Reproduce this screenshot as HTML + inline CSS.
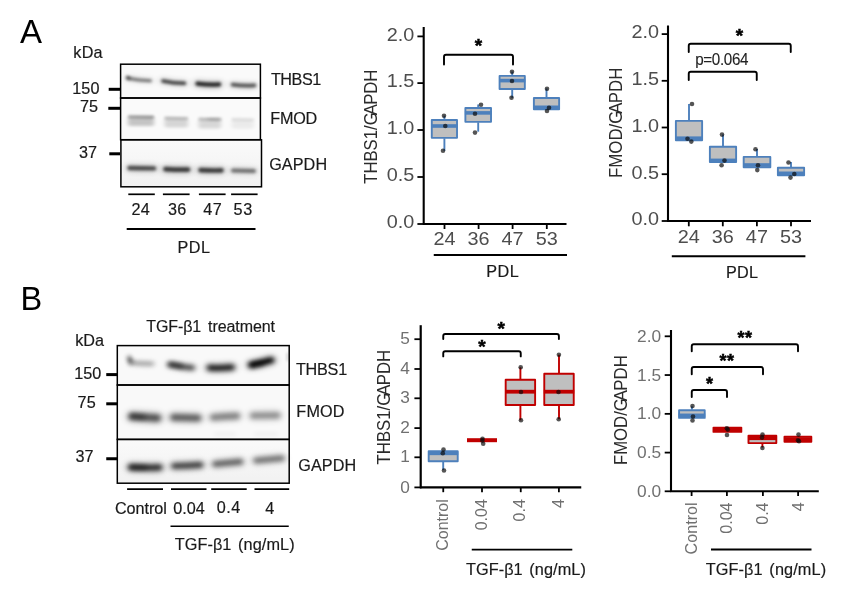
<!DOCTYPE html>
<html lang="en"><head><meta charset="utf-8"><title>Figure</title>
<style>
html,body{margin:0;padding:0;background:#fff;}
svg{display:block;font-family:"Liberation Sans", Arial, sans-serif;}
</style></head><body>
<svg width="852" height="591" viewBox="0 0 852 591">
<defs>
<filter id="b1" x="-30%" y="-200%" width="160%" height="500%"><feGaussianBlur stdDeviation="1.6 1.1"/></filter>
<filter id="b2" x="-30%" y="-200%" width="160%" height="500%"><feGaussianBlur stdDeviation="2.2 1.8"/></filter>
<filter id="b3" filterUnits="userSpaceOnUse" x="100" y="330" width="210" height="170"><feGaussianBlur stdDeviation="2.6 1.9"/></filter>
<filter id="bh" filterUnits="userSpaceOnUse" x="100" y="50" width="210" height="450"><feGaussianBlur stdDeviation="3 2.6"/></filter>
<filter id="bA" filterUnits="userSpaceOnUse" x="100" y="50" width="180" height="150"><feGaussianBlur stdDeviation="1.8 1.35"/></filter>
<filter id="bA2" filterUnits="userSpaceOnUse" x="270" y="340" width="30" height="40"><feGaussianBlur stdDeviation="0.9 1.6"/></filter>
<filter id="bF" filterUnits="userSpaceOnUse" x="100" y="50" width="180" height="150"><feGaussianBlur stdDeviation="2.2 1.5"/></filter>
<linearGradient id="gA3" x1="0" y1="0" x2="0" y2="1"><stop offset="0" stop-color="#fafafa"/><stop offset="1" stop-color="#f1f1f1"/></linearGradient>
<linearGradient id="gB" x1="0" y1="0" x2="0" y2="1"><stop offset="0" stop-color="#f8f8f8"/><stop offset="0.7" stop-color="#fafafa"/><stop offset="1" stop-color="#f1f1f1"/></linearGradient>
</defs>
<rect width="852" height="591" fill="#fff"/>

<text x="20" y="43" font-size="33" fill="#000" text-anchor="start">A</text>
<text transform="translate(73.31 58) scale(1 1.0)" font-size="16.2" fill="#1a1a1a" stroke="#1a1a1a" stroke-width="0.18" letter-spacing="0.241">kDa</text>
<rect x="120.5" y="64.2" width="140" height="75.6" fill="#fafafa"/>
<rect x="120.5" y="139.8" width="141" height="47" fill="url(#gA3)"/>
<path d="M127.5 78.2Q139.0 80.5 150.5 80.8" fill="none" stroke="#000" stroke-width="6.0" stroke-linecap="round" opacity="0.11" filter="url(#bh)"/>
<path d="M127.5 78.2Q139.0 80.5 150.5 80.8" fill="none" stroke="#000" stroke-width="3.0" stroke-linecap="round" opacity="0.5" filter="url(#bA)"/>
<rect x="125.8" y="76.0" width="5" height="3.2" rx="1.6" fill="#000" opacity="0.45" filter="url(#bA)" transform="rotate(25 128.3 77.6)"/>
<path d="M163 81.0Q173.75 83.35 184.5 83.3" fill="none" stroke="#000" stroke-width="7.2" stroke-linecap="round" opacity="0.154" filter="url(#bh)"/>
<path d="M163 81.0Q173.75 83.35 184.5 83.3" fill="none" stroke="#000" stroke-width="3.6" stroke-linecap="round" opacity="0.7" filter="url(#bA)"/>
<path d="M197.5 83.6Q208.25 85.0 219 84.4" fill="none" stroke="#000" stroke-width="8.8" stroke-linecap="round" opacity="0.18" filter="url(#bh)"/>
<path d="M197.5 83.6Q208.25 85.0 219 84.4" fill="none" stroke="#000" stroke-width="4.4" stroke-linecap="round" opacity="0.82" filter="url(#bA)"/>
<path d="M232.5 84.6Q243.5 86.2 254.5 85.4" fill="none" stroke="#000" stroke-width="7.2" stroke-linecap="round" opacity="0.136" filter="url(#bh)"/>
<path d="M232.5 84.6Q243.5 86.2 254.5 85.4" fill="none" stroke="#000" stroke-width="3.6" stroke-linecap="round" opacity="0.62" filter="url(#bA)"/>
<path d="M129 116.6Q141.0 116.8 153 117.0" fill="none" stroke="#000" stroke-width="2.4" stroke-linecap="round" opacity="0.42" filter="url(#bA)"/>
<rect x="128" y="117.1" width="26" height="9" rx="2" fill="#000" opacity="0.21" filter="url(#bF)"/>
<path d="M165.5 118.0Q176.25 118.2 187 118.4" fill="none" stroke="#000" stroke-width="2.4" stroke-linecap="round" opacity="0.28" filter="url(#bA)"/>
<rect x="164.5" y="118.5" width="23.5" height="9" rx="2" fill="#000" opacity="0.14" filter="url(#bF)"/>
<path d="M199.5 119.0Q209.75 119.2 220 119.4" fill="none" stroke="#000" stroke-width="2.4" stroke-linecap="round" opacity="0.27" filter="url(#bA)"/>
<rect x="198.5" y="119.5" width="22.5" height="9" rx="2" fill="#000" opacity="0.135" filter="url(#bF)"/>
<path d="M232.5 119.2Q242.75 119.4 253 119.60000000000001" fill="none" stroke="#000" stroke-width="2.4" stroke-linecap="round" opacity="0.12" filter="url(#bA)"/>
<rect x="231.5" y="119.7" width="22.5" height="9" rx="2" fill="#000" opacity="0.06" filter="url(#bF)"/>
<path d="M209 119.0Q214.5 119.0 220 119.0" fill="none" stroke="#000" stroke-width="2.6" stroke-linecap="round" opacity="0.16" filter="url(#bF)"/>
<path d="M129.5 168.0Q141.75 168.4 154 168.4" fill="none" stroke="#000" stroke-width="8.8" stroke-linecap="round" opacity="0.145" filter="url(#bh)"/>
<path d="M129.5 168.0Q141.75 168.4 154 168.4" fill="none" stroke="#000" stroke-width="4.4" stroke-linecap="round" opacity="0.66" filter="url(#bA)"/>
<path d="M165.5 169.1Q176.75 169.75 188 169.6" fill="none" stroke="#000" stroke-width="9.6" stroke-linecap="round" opacity="0.158" filter="url(#bh)"/>
<path d="M165.5 169.1Q176.75 169.75 188 169.6" fill="none" stroke="#000" stroke-width="4.8" stroke-linecap="round" opacity="0.72" filter="url(#bA)"/>
<path d="M200.5 170.1Q211.0 170.65 221.5 170.4" fill="none" stroke="#000" stroke-width="9.2" stroke-linecap="round" opacity="0.158" filter="url(#bh)"/>
<path d="M200.5 170.1Q211.0 170.65 221.5 170.4" fill="none" stroke="#000" stroke-width="4.6" stroke-linecap="round" opacity="0.72" filter="url(#bA)"/>
<path d="M233 170.5Q243.5 170.95 254 171.0" fill="none" stroke="#000" stroke-width="8.0" stroke-linecap="round" opacity="0.11" filter="url(#bh)"/>
<path d="M233 170.5Q243.5 170.95 254 171.0" fill="none" stroke="#000" stroke-width="4.0" stroke-linecap="round" opacity="0.5" filter="url(#bA)"/>
<rect x="120.6" y="64.2" width="139.8" height="33.8" fill="none" stroke="#000" stroke-width="1.5"/>
<rect x="120.6" y="98" width="139.8" height="41.7" fill="none" stroke="#000" stroke-width="1.5"/>
<rect x="120.9" y="139.8" width="140.6" height="47.0" fill="none" stroke="#000" stroke-width="1.5"/>
<text transform="translate(72.17 93.9) scale(1 1.0)" font-size="16.2" fill="#1a1a1a" stroke="#1a1a1a" stroke-width="0.18" letter-spacing="0.169">150</text>
<line x1="108.7" y1="89.3" x2="120" y2="89.3" stroke="#000" stroke-width="3"/>
<text transform="translate(80.07 111.6) scale(1 1.0)" font-size="16.2" fill="#1a1a1a" stroke="#1a1a1a" stroke-width="0.18" letter-spacing="-0.008">75</text>
<line x1="108.3" y1="108.3" x2="120" y2="108.3" stroke="#000" stroke-width="3"/>
<text transform="translate(79.08 157.9) scale(1 1.0)" font-size="16.2" fill="#1a1a1a" stroke="#1a1a1a" stroke-width="0.18" letter-spacing="-0.188">37</text>
<line x1="109.3" y1="153.8" x2="120" y2="153.8" stroke="#000" stroke-width="3"/>
<text transform="translate(270.94 84.95) scale(1 1.0)" font-size="16.2" fill="#1a1a1a" stroke="#1a1a1a" stroke-width="0.18" letter-spacing="-0.465">THBS1</text>
<text transform="translate(270.37 124.1) scale(1 1.0)" font-size="16.2" fill="#1a1a1a" stroke="#1a1a1a" stroke-width="0.18" letter-spacing="-0.262">FMOD</text>
<text transform="translate(269.19 169.85) scale(1 1.0)" font-size="16.2" fill="#1a1a1a" stroke="#1a1a1a" stroke-width="0.18" letter-spacing="0.082">GAPDH</text>
<line x1="128.3" y1="194.3" x2="154.8" y2="194.3" stroke="#000" stroke-width="1.7"/>
<line x1="162.9" y1="194.3" x2="189.6" y2="194.3" stroke="#000" stroke-width="1.7"/>
<line x1="198.9" y1="194.3" x2="225.6" y2="194.3" stroke="#000" stroke-width="1.7"/>
<line x1="231.1" y1="194.3" x2="257.6" y2="194.3" stroke="#000" stroke-width="1.7"/>
<text transform="translate(131.39 215.2) scale(1 1.0)" font-size="16.2" fill="#1a1a1a" stroke="#1a1a1a" stroke-width="0.18" letter-spacing="0.37">24</text>
<text transform="translate(168.08 215.2) scale(1 1.0)" font-size="16.2" fill="#1a1a1a" stroke="#1a1a1a" stroke-width="0.18" letter-spacing="0.21">36</text>
<text transform="translate(203.23 215.2) scale(1 1.0)" font-size="16.2" fill="#1a1a1a" stroke="#1a1a1a" stroke-width="0.18" letter-spacing="0.567">47</text>
<text transform="translate(233.55 215.2) scale(1 1.0)" font-size="16.2" fill="#1a1a1a" stroke="#1a1a1a" stroke-width="0.18" letter-spacing="0.741">53</text>
<line x1="126.7" y1="228.9" x2="255.5" y2="228.9" stroke="#000" stroke-width="2.0"/>
<text transform="translate(177.57 252.7) scale(1 1.0)" font-size="16.2" fill="#1a1a1a" stroke="#1a1a1a" stroke-width="0.18" letter-spacing="0.476">PDL</text>
<text transform="translate(377 183.8) rotate(-90) scale(0.9443 1)" font-size="17.7" fill="#2b2b2b" text-anchor="start">THBS1/G<tspan dx="-3.2">A</tspan><tspan dx="-0.7">P</tspan>DH</text>
<line x1="423.7" y1="27" x2="423.7" y2="224.9" stroke="#000" stroke-width="2.1"/>
<line x1="423.0" y1="224.0" x2="566.5" y2="224.0" stroke="#000" stroke-width="2.1"/>
<line x1="417.4" y1="36.4" x2="423.7" y2="36.4" stroke="#000" stroke-width="1.8"/>
<text transform="translate(414.4 40.699999999999996) scale(1.085 1.03)" font-size="18.3" fill="#4d4d4d" text-anchor="end">2.0</text>
<line x1="417.4" y1="83.1" x2="423.7" y2="83.1" stroke="#000" stroke-width="1.8"/>
<text transform="translate(414.4 87.39999999999999) scale(1.085 1.03)" font-size="18.3" fill="#4d4d4d" text-anchor="end">1.5</text>
<line x1="417.4" y1="130.0" x2="423.7" y2="130.0" stroke="#000" stroke-width="1.8"/>
<text transform="translate(414.4 134.3) scale(1.085 1.03)" font-size="18.3" fill="#4d4d4d" text-anchor="end">1.0</text>
<line x1="417.4" y1="177.0" x2="423.7" y2="177.0" stroke="#000" stroke-width="1.8"/>
<text transform="translate(414.4 181.3) scale(1.085 1.03)" font-size="18.3" fill="#4d4d4d" text-anchor="end">0.5</text>
<line x1="417.4" y1="224.0" x2="423.7" y2="224.0" stroke="#000" stroke-width="1.8"/>
<text transform="translate(414.4 228.3) scale(1.085 1.03)" font-size="18.3" fill="#4d4d4d" text-anchor="end">0.0</text>
<line x1="444.5" y1="224.0" x2="444.5" y2="229.0" stroke="#000" stroke-width="1.8"/>
<text transform="translate(444.5 244.9) scale(1.085 1.03)" font-size="18.3" fill="#4d4d4d" text-anchor="middle">24</text>
<line x1="478.6" y1="224.0" x2="478.6" y2="229.0" stroke="#000" stroke-width="1.8"/>
<text transform="translate(478.6 244.9) scale(1.085 1.03)" font-size="18.3" fill="#4d4d4d" text-anchor="middle">36</text>
<line x1="512.6" y1="224.0" x2="512.6" y2="229.0" stroke="#000" stroke-width="1.8"/>
<text transform="translate(512.6 244.9) scale(1.085 1.03)" font-size="18.3" fill="#4d4d4d" text-anchor="middle">47</text>
<line x1="546.8" y1="224.0" x2="546.8" y2="229.0" stroke="#000" stroke-width="1.8"/>
<text transform="translate(546.8 244.9) scale(1.085 1.03)" font-size="18.3" fill="#4d4d4d" text-anchor="middle">53</text>
<line x1="433.75" y1="255" x2="567" y2="255" stroke="#000" stroke-width="1.9"/>
<text transform="translate(486.27 277.0) scale(1 1.0)" font-size="16.2" fill="#1a1a1a" stroke="#1a1a1a" stroke-width="0.18" letter-spacing="0.526">PDL</text>
<path d="M444 64.6V56.7Q444 54.7 446 54.7H511Q513 54.7 513 56.7V64.6" fill="none" stroke="#000" stroke-width="1.9" stroke-linecap="round"/>
<text x="478.5" y="52.3" font-size="19" fill="#000" text-anchor="middle" font-weight="bold" stroke="#000" stroke-width="0.5" letter-spacing="0">*</text>
<line x1="444.4" y1="115.7" x2="444.4" y2="119.5" stroke="#4d80bc" stroke-width="1.9"/>
<line x1="444.4" y1="138.3" x2="444.4" y2="150.8" stroke="#4d80bc" stroke-width="1.9"/>
<rect x="431.77" y="119.97" width="25.25" height="17.86" fill="#bfbfbf" stroke="#4d80bc" stroke-width="1.9" stroke-linejoin="round"/>
<line x1="431.29999999999995" y1="126" x2="457.5" y2="126" stroke="#4d80bc" stroke-width="3.6"/>
<circle cx="444" cy="115.7" r="2.3" fill="#0d0d0d" fill-opacity="0.7"/>
<circle cx="445.3" cy="126" r="2.3" fill="#0d0d0d" fill-opacity="0.7"/>
<circle cx="443" cy="150.8" r="2.3" fill="#0d0d0d" fill-opacity="0.7"/>
<line x1="478.2" y1="104.5" x2="478.2" y2="107.6" stroke="#4d80bc" stroke-width="1.9"/>
<line x1="478.2" y1="122.3" x2="478.2" y2="131.7" stroke="#4d80bc" stroke-width="1.9"/>
<rect x="465.38" y="108.07" width="25.64" height="13.76" fill="#bfbfbf" stroke="#4d80bc" stroke-width="1.9" stroke-linejoin="round"/>
<line x1="464.9" y1="112.9" x2="491.5" y2="112.9" stroke="#4d80bc" stroke-width="3.6"/>
<circle cx="481" cy="104.8" r="2.3" fill="#0d0d0d" fill-opacity="0.7"/>
<circle cx="475" cy="113.8" r="2.3" fill="#0d0d0d" fill-opacity="0.7"/>
<circle cx="475" cy="132.6" r="2.3" fill="#0d0d0d" fill-opacity="0.7"/>
<line x1="512.2" y1="71.6" x2="512.2" y2="75.4" stroke="#4d80bc" stroke-width="1.9"/>
<line x1="512.2" y1="89.4" x2="512.2" y2="97.9" stroke="#4d80bc" stroke-width="1.9"/>
<rect x="499.58" y="75.88" width="25.25" height="13.05" fill="#bfbfbf" stroke="#4d80bc" stroke-width="1.9" stroke-linejoin="round"/>
<line x1="499.1" y1="80.6" x2="525.3000000000001" y2="80.6" stroke="#4d80bc" stroke-width="3.6"/>
<circle cx="512" cy="71.8" r="2.3" fill="#0d0d0d" fill-opacity="0.7"/>
<circle cx="512" cy="81" r="2.3" fill="#0d0d0d" fill-opacity="0.7"/>
<circle cx="511.5" cy="97.7" r="2.3" fill="#0d0d0d" fill-opacity="0.7"/>
<line x1="546.5" y1="88.5" x2="546.5" y2="97.5" stroke="#4d80bc" stroke-width="1.9"/>
<rect x="533.88" y="97.97" width="25.24" height="11.26" fill="#bfbfbf" stroke="#4d80bc" stroke-width="1.9" stroke-linejoin="round"/>
<line x1="533.4" y1="107.3" x2="559.6" y2="107.3" stroke="#4d80bc" stroke-width="3.6"/>
<circle cx="547" cy="88.8" r="2.3" fill="#0d0d0d" fill-opacity="0.7"/>
<circle cx="549" cy="107.7" r="2.3" fill="#0d0d0d" fill-opacity="0.7"/>
<circle cx="547" cy="111" r="2.3" fill="#0d0d0d" fill-opacity="0.7"/>
<text transform="translate(622.3 178.0) rotate(-90) scale(0.9519 1)" font-size="17.7" fill="#2b2b2b" text-anchor="start">FMOD/G<tspan dx="-3.2">A</tspan><tspan dx="-0.7">P</tspan>DH</text>
<line x1="668" y1="25.5" x2="668" y2="221.9" stroke="#000" stroke-width="2.1"/>
<line x1="667.3" y1="221.0" x2="811" y2="221.0" stroke="#000" stroke-width="2.1"/>
<line x1="661.7" y1="34.1" x2="668" y2="34.1" stroke="#000" stroke-width="1.8"/>
<text transform="translate(659.0 38.4) scale(1.085 1.03)" font-size="18.3" fill="#4d4d4d" text-anchor="end">2.0</text>
<line x1="661.7" y1="80.8" x2="668" y2="80.8" stroke="#000" stroke-width="1.8"/>
<text transform="translate(659.0 85.1) scale(1.085 1.03)" font-size="18.3" fill="#4d4d4d" text-anchor="end">1.5</text>
<line x1="661.7" y1="127.5" x2="668" y2="127.5" stroke="#000" stroke-width="1.8"/>
<text transform="translate(659.0 131.8) scale(1.085 1.03)" font-size="18.3" fill="#4d4d4d" text-anchor="end">1.0</text>
<line x1="661.7" y1="174.2" x2="668" y2="174.2" stroke="#000" stroke-width="1.8"/>
<text transform="translate(659.0 178.5) scale(1.085 1.03)" font-size="18.3" fill="#4d4d4d" text-anchor="end">0.5</text>
<line x1="661.7" y1="221.0" x2="668" y2="221.0" stroke="#000" stroke-width="1.8"/>
<text transform="translate(659.0 225.3) scale(1.085 1.03)" font-size="18.3" fill="#4d4d4d" text-anchor="end">0.0</text>
<line x1="688.8" y1="221.0" x2="688.8" y2="226.3" stroke="#000" stroke-width="1.8"/>
<text transform="translate(688.8 242.6) scale(1.085 1.03)" font-size="18.3" fill="#4d4d4d" text-anchor="middle">24</text>
<line x1="722.8" y1="221.0" x2="722.8" y2="226.3" stroke="#000" stroke-width="1.8"/>
<text transform="translate(722.8 242.6) scale(1.085 1.03)" font-size="18.3" fill="#4d4d4d" text-anchor="middle">36</text>
<line x1="756.9" y1="221.0" x2="756.9" y2="226.3" stroke="#000" stroke-width="1.8"/>
<text transform="translate(756.9 242.6) scale(1.085 1.03)" font-size="18.3" fill="#4d4d4d" text-anchor="middle">47</text>
<line x1="791" y1="221.0" x2="791" y2="226.3" stroke="#000" stroke-width="1.8"/>
<text transform="translate(791 242.6) scale(1.085 1.03)" font-size="18.3" fill="#4d4d4d" text-anchor="middle">53</text>
<line x1="671.8" y1="256.3" x2="805.4" y2="256.3" stroke="#000" stroke-width="1.9"/>
<text transform="translate(725.97 277.9) scale(1 1.0)" font-size="16.2" fill="#1a1a1a" stroke="#1a1a1a" stroke-width="0.18" letter-spacing="0.326">PDL</text>
<path d="M688.75 52V45.75Q688.75 43.75 690.75 43.75H788.75Q790.75 43.75 790.75 45.75V52" fill="none" stroke="#000" stroke-width="1.9" stroke-linecap="round"/>
<text x="739.5" y="42" font-size="19" fill="#000" text-anchor="middle" font-weight="bold" stroke="#000" stroke-width="0.5" letter-spacing="0">*</text>
<path d="M688.75 80V73.75Q688.75 71.75 690.75 71.75H754.75Q756.75 71.75 756.75 73.75V80" fill="none" stroke="#000" stroke-width="1.9" stroke-linecap="round"/>
<text transform="translate(695.27 65) scale(1 1.04)" font-size="15.2" fill="#222" stroke="#222" stroke-width="0.1" letter-spacing="-0.365">p=0.064</text>
<line x1="689" y1="104" x2="689" y2="120.4" stroke="#4d80bc" stroke-width="1.9"/>
<rect x="675.88" y="120.88" width="26.24" height="19.34" fill="#bfbfbf" stroke="#4d80bc" stroke-width="1.9" stroke-linejoin="round"/>
<line x1="675.4" y1="138.2" x2="702.6" y2="138.2" stroke="#4d80bc" stroke-width="3.6"/>
<circle cx="692" cy="104" r="2.3" fill="#0d0d0d" fill-opacity="0.7"/>
<circle cx="687.5" cy="138.7" r="2.3" fill="#0d0d0d" fill-opacity="0.7"/>
<circle cx="691.3" cy="141.6" r="2.3" fill="#0d0d0d" fill-opacity="0.7"/>
<line x1="723" y1="134.5" x2="723" y2="146.3" stroke="#4d80bc" stroke-width="1.9"/>
<rect x="709.88" y="146.78" width="26.24" height="15.34" fill="#bfbfbf" stroke="#4d80bc" stroke-width="1.9" stroke-linejoin="round"/>
<line x1="709.4" y1="160.4" x2="736.6" y2="160.4" stroke="#4d80bc" stroke-width="3.6"/>
<circle cx="722" cy="134.6" r="2.3" fill="#0d0d0d" fill-opacity="0.7"/>
<circle cx="724.5" cy="160.6" r="2.3" fill="#0d0d0d" fill-opacity="0.7"/>
<circle cx="721.6" cy="165.3" r="2.3" fill="#0d0d0d" fill-opacity="0.7"/>
<line x1="757" y1="149.1" x2="757" y2="156.4" stroke="#4d80bc" stroke-width="1.9"/>
<rect x="743.68" y="156.88" width="26.64" height="10.34" fill="#bfbfbf" stroke="#4d80bc" stroke-width="1.9" stroke-linejoin="round"/>
<line x1="743.2" y1="165" x2="770.8" y2="165" stroke="#4d80bc" stroke-width="3.6"/>
<circle cx="755.5" cy="149.2" r="2.3" fill="#0d0d0d" fill-opacity="0.7"/>
<circle cx="758" cy="165.2" r="2.3" fill="#0d0d0d" fill-opacity="0.7"/>
<circle cx="757.3" cy="170.1" r="2.3" fill="#0d0d0d" fill-opacity="0.7"/>
<line x1="791" y1="162" x2="791" y2="167.3" stroke="#4d80bc" stroke-width="1.9"/>
<rect x="777.88" y="167.78" width="26.24" height="7.55" fill="#bfbfbf" stroke="#4d80bc" stroke-width="1.9" stroke-linejoin="round"/>
<line x1="777.4" y1="173.3" x2="804.6" y2="173.3" stroke="#4d80bc" stroke-width="3.6"/>
<circle cx="788.5" cy="162.5" r="2.3" fill="#0d0d0d" fill-opacity="0.7"/>
<circle cx="794.3" cy="174" r="2.3" fill="#0d0d0d" fill-opacity="0.7"/>
<circle cx="790.5" cy="177.6" r="2.3" fill="#0d0d0d" fill-opacity="0.7"/>
<text x="20.5" y="310" font-size="32.5" fill="#000" text-anchor="start">B</text>
<text transform="translate(75.16 345.8) scale(1 1.0)" font-size="16.2" fill="#1a1a1a" stroke="#1a1a1a" stroke-width="0.18" letter-spacing="-0.034">kDa</text>
<text transform="translate(146.24 332) scale(1 1.0)" font-size="16.0" fill="#1a1a1a" stroke="#1a1a1a" stroke-width="0.18" letter-spacing="-0.085" word-spacing="2.6">TGF-β1 treatment</text>
<rect x="117.3" y="345.5" width="172" height="94" fill="#f9f9f9"/>
<rect x="117.3" y="439.4" width="172" height="44" fill="url(#gA3)"/>
<path d="M131 362.8Q141.5 363.7 152 363.8" fill="none" stroke="#000" stroke-width="7.2" stroke-linecap="round" opacity="0.075" filter="url(#bh)"/>
<path d="M131 362.8Q141.5 363.7 152 363.8" fill="none" stroke="#000" stroke-width="3.6" stroke-linecap="round" opacity="0.34" filter="url(#b3)"/>
<rect x="126.5" y="357.7" width="7" height="4.2" rx="2.1" fill="#000" opacity="0.8" filter="url(#b3)" transform="rotate(65 130.0 359.8)"/>
<path d="M170.5 364.6Q181.25 367.0 192 367.8" fill="none" stroke="#000" stroke-width="10.0" stroke-linecap="round" opacity="0.145" filter="url(#bh)"/>
<path d="M170.5 364.6Q181.25 367.0 192 367.8" fill="none" stroke="#000" stroke-width="5.0" stroke-linecap="round" opacity="0.66" filter="url(#b3)"/>
<path d="M170.5 364.4Q175.75 365.2 181 366.0" fill="none" stroke="#000" stroke-width="5.0" stroke-linecap="round" opacity="0.45" filter="url(#b3)"/>
<path d="M210 367.8Q220.75 368.55 231.5 367.3" fill="none" stroke="#000" stroke-width="12.0" stroke-linecap="round" opacity="0.185" filter="url(#bh)"/>
<path d="M210 367.8Q220.75 368.55 231.5 367.3" fill="none" stroke="#000" stroke-width="6.0" stroke-linecap="round" opacity="0.84" filter="url(#b3)"/>
<path d="M251.5 364.8Q261.25 363.1 271 360.2" fill="none" stroke="#000" stroke-width="12.0" stroke-linecap="round" opacity="0.22" filter="url(#bh)"/>
<path d="M251.5 364.8Q261.25 363.1 271 360.2" fill="none" stroke="#000" stroke-width="6.0" stroke-linecap="round" opacity="1.0" filter="url(#b3)"/>
<path d="M252 365.2Q257.0 364.2 262 363.2" fill="none" stroke="#000" stroke-width="5.0" stroke-linecap="round" opacity="0.4" filter="url(#b3)"/>
<path d="M132.5 416.6Q144.75 417.3 157 418.0" fill="none" stroke="#000" stroke-width="15.0" stroke-linecap="round" opacity="0.132" filter="url(#bh)"/>
<path d="M132.5 416.6Q144.75 417.3 157 418.0" fill="none" stroke="#000" stroke-width="7.5" stroke-linecap="round" opacity="0.6" filter="url(#b3)"/>
<path d="M132.0 416.0Q137.5 416.6 143 417.2" fill="none" stroke="#000" stroke-width="5.5" stroke-linecap="round" opacity="0.32" filter="url(#b3)"/>
<path d="M174 417.4Q185.75 417.7 197.5 418.0" fill="none" stroke="#000" stroke-width="14.4" stroke-linecap="round" opacity="0.119" filter="url(#bh)"/>
<path d="M174 417.4Q185.75 417.7 197.5 418.0" fill="none" stroke="#000" stroke-width="7.2" stroke-linecap="round" opacity="0.54" filter="url(#b3)"/>
<path d="M213.5 417.3Q225.0 416.25 236.5 416.0" fill="none" stroke="#000" stroke-width="13.6" stroke-linecap="round" opacity="0.088" filter="url(#bh)"/>
<path d="M213.5 417.3Q225.0 416.25 236.5 416.0" fill="none" stroke="#000" stroke-width="6.8" stroke-linecap="round" opacity="0.4" filter="url(#b3)"/>
<path d="M253.5 415.6Q265.25 415.5 277 415.4" fill="none" stroke="#000" stroke-width="13.6" stroke-linecap="round" opacity="0.077" filter="url(#bh)"/>
<path d="M253.5 415.6Q265.25 415.5 277 415.4" fill="none" stroke="#000" stroke-width="6.8" stroke-linecap="round" opacity="0.35" filter="url(#b3)"/>
<path d="M131.5 467.2Q145.25 467.9 159 467.4" fill="none" stroke="#000" stroke-width="12.8" stroke-linecap="round" opacity="0.167" filter="url(#bh)"/>
<path d="M131.5 467.2Q145.25 467.9 159 467.4" fill="none" stroke="#000" stroke-width="6.4" stroke-linecap="round" opacity="0.76" filter="url(#b3)"/>
<path d="M174.5 466.0Q187.25 465.65 200 464.9" fill="none" stroke="#000" stroke-width="12.4" stroke-linecap="round" opacity="0.145" filter="url(#bh)"/>
<path d="M174.5 466.0Q187.25 465.65 200 464.9" fill="none" stroke="#000" stroke-width="6.2" stroke-linecap="round" opacity="0.66" filter="url(#b3)"/>
<path d="M215.5 464.0Q227.75 462.9 240 461.8" fill="none" stroke="#000" stroke-width="12.0" stroke-linecap="round" opacity="0.114" filter="url(#bh)"/>
<path d="M215.5 464.0Q227.75 462.9 240 461.8" fill="none" stroke="#000" stroke-width="6.0" stroke-linecap="round" opacity="0.52" filter="url(#b3)"/>
<path d="M256.5 460.4Q269.0 459.35 281.5 458.3" fill="none" stroke="#000" stroke-width="12.0" stroke-linecap="round" opacity="0.099" filter="url(#bh)"/>
<path d="M256.5 460.4Q269.0 459.35 281.5 458.3" fill="none" stroke="#000" stroke-width="6.0" stroke-linecap="round" opacity="0.45" filter="url(#b3)"/>
<path d="M131.5 467.2Q138.25 467.3 145 467.4" fill="none" stroke="#000" stroke-width="5.0" stroke-linecap="round" opacity="0.3" filter="url(#b3)"/>
<rect x="286.3" y="353" width="2" height="8" fill="#000" opacity="0.16" filter="url(#bA2)"/>
<rect x="214" y="432.5" width="22" height="3" fill="#000" opacity="0.05" filter="url(#b3)"/>
<rect x="254" y="432.5" width="24" height="3" fill="#000" opacity="0.05" filter="url(#b3)"/>
<rect x="117.3" y="345.6" width="171.9" height="39.4" fill="none" stroke="#000" stroke-width="1.5"/>
<rect x="117.3" y="385" width="171.9" height="54.4" fill="none" stroke="#000" stroke-width="1.5"/>
<rect x="117.3" y="439.4" width="171.9" height="43.8" fill="none" stroke="#000" stroke-width="1.5"/>
<text transform="translate(74.37 379.3) scale(1 1.0)" font-size="16.2" fill="#1a1a1a" stroke="#1a1a1a" stroke-width="0.18" letter-spacing="-0.031">150</text>
<line x1="106.25" y1="374.6" x2="117" y2="374.6" stroke="#000" stroke-width="3"/>
<text transform="translate(77.42 408.3) scale(1 1.0)" font-size="16.2" fill="#1a1a1a" stroke="#1a1a1a" stroke-width="0.18" letter-spacing="0.342">75</text>
<line x1="106.25" y1="403.8" x2="117" y2="403.8" stroke="#000" stroke-width="3"/>
<text transform="translate(75.58 462.2) scale(1 1.0)" font-size="16.2" fill="#1a1a1a" stroke="#1a1a1a" stroke-width="0.18" letter-spacing="-0.188">37</text>
<line x1="106.25" y1="458.75" x2="117" y2="458.75" stroke="#000" stroke-width="3"/>
<text transform="translate(295.94 374.7) scale(1 1.0)" font-size="16.2" fill="#1a1a1a" stroke="#1a1a1a" stroke-width="0.18" letter-spacing="-0.24">THBS1</text>
<text transform="translate(296.37 417.2) scale(1 1.0)" font-size="16.2" fill="#1a1a1a" stroke="#1a1a1a" stroke-width="0.18" letter-spacing="0.138">FMOD</text>
<text transform="translate(298.19 471.3) scale(1 1.0)" font-size="16.2" fill="#1a1a1a" stroke="#1a1a1a" stroke-width="0.18" letter-spacing="0.132">GAPDH</text>
<line x1="127.1" y1="489.1" x2="163" y2="489.1" stroke="#000" stroke-width="1.7"/>
<line x1="171" y1="489.1" x2="206.5" y2="489.1" stroke="#000" stroke-width="1.7"/>
<line x1="211.2" y1="489.1" x2="246.7" y2="489.1" stroke="#000" stroke-width="1.7"/>
<line x1="254.5" y1="489.1" x2="289.2" y2="489.1" stroke="#000" stroke-width="1.7"/>
<text transform="translate(114.88 513.9) scale(1 1.0)" font-size="16.2" fill="#1a1a1a" stroke="#1a1a1a" stroke-width="0.18" letter-spacing="-0.036">Control</text>
<text transform="translate(173.17 513.9) scale(1 1.0)" font-size="16.2" fill="#1a1a1a" stroke="#1a1a1a" stroke-width="0.18" letter-spacing="0.059">0.04</text>
<text transform="translate(216.87 513.0) scale(1 1.0)" font-size="16.2" fill="#1a1a1a" stroke="#1a1a1a" stroke-width="0.18" letter-spacing="0.394">0.4</text>
<text transform="translate(265.33 514.2) scale(1 1.0)" font-size="16.2" fill="#1a1a1a" stroke="#1a1a1a" stroke-width="0.18">4</text>
<line x1="170.5" y1="526.25" x2="288.75" y2="526.25" stroke="#000" stroke-width="1.5"/>
<text transform="translate(174.63 550.2) scale(1 1.0)" font-size="16.3" fill="#1a1a1a" stroke="#1a1a1a" stroke-width="0.18" letter-spacing="0.075" word-spacing="2.0">TGF-β1 (ng/mL)</text>
<text transform="translate(389.5 464.4) rotate(-90) scale(0.946 1)" font-size="17.7" fill="#2b2b2b" text-anchor="start">THBS1/G<tspan dx="-3.2">A</tspan><tspan dx="-0.7">P</tspan>DH</text>
<line x1="420.7" y1="325.2" x2="420.7" y2="488.3" stroke="#000" stroke-width="2.2"/>
<line x1="420.0" y1="487.4" x2="581.25" y2="487.4" stroke="#000" stroke-width="2.1"/>
<line x1="414.4" y1="339.2" x2="420.7" y2="339.2" stroke="#000" stroke-width="1.8"/>
<text transform="translate(409.8 344.3) scale(1.06 1.03)" font-size="16.3" fill="#707070" text-anchor="end">5</text>
<line x1="414.4" y1="369.0" x2="420.7" y2="369.0" stroke="#000" stroke-width="1.8"/>
<text transform="translate(409.8 374.1) scale(1.06 1.03)" font-size="16.3" fill="#707070" text-anchor="end">4</text>
<line x1="414.4" y1="398.3" x2="420.7" y2="398.3" stroke="#000" stroke-width="1.8"/>
<text transform="translate(409.8 403.40000000000003) scale(1.06 1.03)" font-size="16.3" fill="#707070" text-anchor="end">3</text>
<line x1="414.4" y1="428.1" x2="420.7" y2="428.1" stroke="#000" stroke-width="1.8"/>
<text transform="translate(409.8 433.20000000000005) scale(1.06 1.03)" font-size="16.3" fill="#707070" text-anchor="end">2</text>
<line x1="414.4" y1="457.3" x2="420.7" y2="457.3" stroke="#000" stroke-width="1.8"/>
<text transform="translate(409.8 462.40000000000003) scale(1.06 1.03)" font-size="16.3" fill="#707070" text-anchor="end">1</text>
<line x1="414.4" y1="487.4" x2="420.7" y2="487.4" stroke="#000" stroke-width="1.8"/>
<text transform="translate(409.8 492.5) scale(1.06 1.03)" font-size="16.3" fill="#707070" text-anchor="end">0</text>
<line x1="443.25" y1="487.4" x2="443.25" y2="492.2" stroke="#000" stroke-width="1.8"/>
<text transform="translate(447.95 499.2) rotate(-90) scale(0.925 1)" font-size="17.3" fill="#707070" text-anchor="end">Control</text>
<line x1="482" y1="487.4" x2="482" y2="492.2" stroke="#000" stroke-width="1.8"/>
<text transform="translate(486.7 499.2) rotate(-90) scale(0.925 1)" font-size="17.3" fill="#707070" text-anchor="end">0.04</text>
<line x1="520.75" y1="487.4" x2="520.75" y2="492.2" stroke="#000" stroke-width="1.8"/>
<text transform="translate(525.45 499.2) rotate(-90) scale(0.925 1)" font-size="17.3" fill="#707070" text-anchor="end">0.4</text>
<line x1="558.9" y1="487.4" x2="558.9" y2="492.2" stroke="#000" stroke-width="1.8"/>
<text transform="translate(563.6 499.2) rotate(-90) scale(0.925 1)" font-size="17.3" fill="#707070" text-anchor="end">4</text>
<line x1="471.75" y1="549.6" x2="572.3" y2="549.6" stroke="#000" stroke-width="1.9"/>
<text transform="translate(465.88 574.5) scale(1 1.0)" font-size="16.3" fill="#1a1a1a" stroke="#1a1a1a" stroke-width="0.18" letter-spacing="0.075" word-spacing="2.0">TGF-β1 (ng/mL)</text>
<path d="M443.25 339.1V336Q443.25 334 445.25 334H556.9Q558.9 334 558.9 336V339.1" fill="none" stroke="#000" stroke-width="1.9" stroke-linecap="round"/>
<text x="501.2" y="334.6" font-size="19" fill="#000" text-anchor="middle" font-weight="bold" stroke="#000" stroke-width="0.5" letter-spacing="0">*</text>
<path d="M443.25 356.4V353.2Q443.25 351.2 445.25 351.2H518.75Q520.75 351.2 520.75 353.2V356.4" fill="none" stroke="#000" stroke-width="1.9" stroke-linecap="round"/>
<text x="482" y="353" font-size="19" fill="#000" text-anchor="middle" font-weight="bold" stroke="#000" stroke-width="0.5" letter-spacing="0">*</text>
<line x1="443.2" y1="461.75" x2="443.2" y2="470" stroke="#4d80bc" stroke-width="1.9"/>
<rect x="428.68" y="451.23" width="29.04" height="10.04" fill="#bfbfbf" stroke="#4d80bc" stroke-width="1.9" stroke-linejoin="round"/>
<line x1="428.2" y1="453.4" x2="458.2" y2="453.4" stroke="#4d80bc" stroke-width="3.5"/>
<circle cx="443.5" cy="449.6" r="2.3" fill="#0d0d0d" fill-opacity="0.7"/>
<circle cx="442.8" cy="453.2" r="2.3" fill="#0d0d0d" fill-opacity="0.7"/>
<circle cx="444" cy="470.5" r="2.3" fill="#0d0d0d" fill-opacity="0.7"/>
<line x1="467" y1="440.2" x2="497" y2="440.2" stroke="#c00000" stroke-width="4"/>
<circle cx="482.5" cy="438.8" r="2.3" fill="#0d0d0d" fill-opacity="0.7"/>
<circle cx="482.3" cy="440.6" r="2.3" fill="#0d0d0d" fill-opacity="0.7"/>
<circle cx="483.2" cy="443.8" r="2.3" fill="#0d0d0d" fill-opacity="0.7"/>
<line x1="520.4" y1="367.3" x2="520.4" y2="379.2" stroke="#c00000" stroke-width="1.9"/>
<line x1="520.4" y1="405.5" x2="520.4" y2="420.3" stroke="#c00000" stroke-width="1.9"/>
<rect x="505.68" y="379.68" width="29.44" height="25.34" fill="#bfbfbf" stroke="#c00000" stroke-width="1.9" stroke-linejoin="round"/>
<line x1="505.2" y1="391.7" x2="535.6" y2="391.7" stroke="#c00000" stroke-width="3.8"/>
<circle cx="520.7" cy="367.3" r="2.3" fill="#0d0d0d" fill-opacity="0.7"/>
<circle cx="521" cy="392" r="2.3" fill="#0d0d0d" fill-opacity="0.7"/>
<circle cx="521" cy="420.3" r="2.3" fill="#0d0d0d" fill-opacity="0.7"/>
<line x1="559" y1="354.7" x2="559" y2="373.2" stroke="#c00000" stroke-width="1.9"/>
<line x1="559" y1="405.5" x2="559" y2="419.2" stroke="#c00000" stroke-width="1.9"/>
<rect x="544.27" y="373.68" width="29.46" height="31.34" fill="#bfbfbf" stroke="#c00000" stroke-width="1.9" stroke-linejoin="round"/>
<line x1="543.8" y1="391.7" x2="574.2" y2="391.7" stroke="#c00000" stroke-width="3.8"/>
<circle cx="558.9" cy="354.7" r="2.3" fill="#0d0d0d" fill-opacity="0.7"/>
<circle cx="558.5" cy="392" r="2.3" fill="#0d0d0d" fill-opacity="0.7"/>
<circle cx="558.7" cy="419.2" r="2.3" fill="#0d0d0d" fill-opacity="0.7"/>
<text transform="translate(626.6 465.05) rotate(-90) scale(0.9458 1)" font-size="17.7" fill="#2b2b2b" text-anchor="start">FMOD/G<tspan dx="-3.2">A</tspan><tspan dx="-0.7">P</tspan>DH</text>
<line x1="671" y1="330" x2="671" y2="491.9" stroke="#000" stroke-width="2.1"/>
<line x1="670.3" y1="491.2" x2="818.8" y2="491.2" stroke="#000" stroke-width="2.1"/>
<line x1="664.7" y1="336.3" x2="671" y2="336.3" stroke="#000" stroke-width="1.8"/>
<text transform="translate(661.2 341.8) scale(1.07 1.02)" font-size="16.2" fill="#707070" text-anchor="end">2.0</text>
<line x1="664.7" y1="375.05" x2="671" y2="375.05" stroke="#000" stroke-width="1.8"/>
<text transform="translate(661.2 380.55) scale(1.07 1.02)" font-size="16.2" fill="#707070" text-anchor="end">1.5</text>
<line x1="664.7" y1="413.85" x2="671" y2="413.85" stroke="#000" stroke-width="1.8"/>
<text transform="translate(661.2 419.35) scale(1.07 1.02)" font-size="16.2" fill="#707070" text-anchor="end">1.0</text>
<line x1="664.7" y1="452.6" x2="671" y2="452.6" stroke="#000" stroke-width="1.8"/>
<text transform="translate(661.2 458.1) scale(1.07 1.02)" font-size="16.2" fill="#707070" text-anchor="end">0.5</text>
<line x1="664.7" y1="491.3" x2="671" y2="491.3" stroke="#000" stroke-width="1.8"/>
<text transform="translate(661.2 496.8) scale(1.07 1.02)" font-size="16.2" fill="#707070" text-anchor="end">0.0</text>
<line x1="691.6" y1="491.2" x2="691.6" y2="496" stroke="#000" stroke-width="1.8"/>
<text transform="translate(697.1 502.4) rotate(-90) scale(0.955 1)" font-size="16.9" fill="#707070" text-anchor="end">Control</text>
<line x1="726.9" y1="491.2" x2="726.9" y2="496" stroke="#000" stroke-width="1.8"/>
<text transform="translate(732.4 502.4) rotate(-90) scale(0.955 1)" font-size="16.9" fill="#707070" text-anchor="end">0.04</text>
<line x1="762.9" y1="491.2" x2="762.9" y2="496" stroke="#000" stroke-width="1.8"/>
<text transform="translate(768.4 502.4) rotate(-90) scale(0.955 1)" font-size="16.9" fill="#707070" text-anchor="end">0.4</text>
<line x1="798.1" y1="491.2" x2="798.1" y2="496" stroke="#000" stroke-width="1.8"/>
<text transform="translate(803.6 502.4) rotate(-90) scale(0.955 1)" font-size="16.9" fill="#707070" text-anchor="end">4</text>
<line x1="711" y1="549.5" x2="811.5" y2="549.5" stroke="#000" stroke-width="1.9"/>
<text transform="translate(705.63 574.5) scale(1 1.0)" font-size="16.3" fill="#1a1a1a" stroke="#1a1a1a" stroke-width="0.18" letter-spacing="0.114" word-spacing="2.0">TGF-β1 (ng/mL)</text>
<path d="M691.75 351.25V346.25Q691.75 344.25 693.75 344.25H796Q798 344.25 798 346.25V351.25" fill="none" stroke="#000" stroke-width="1.9" stroke-linecap="round"/>
<text x="745" y="344.2" font-size="18" fill="#000" text-anchor="middle" font-weight="bold" stroke="#000" stroke-width="0.5" letter-spacing="0.6">**</text>
<path d="M691.75 374.25V369Q691.75 367 693.75 367H761Q763 367 763 369V374.25" fill="none" stroke="#000" stroke-width="1.9" stroke-linecap="round"/>
<text x="727" y="367.2" font-size="18" fill="#000" text-anchor="middle" font-weight="bold" stroke="#000" stroke-width="0.5" letter-spacing="0.6">**</text>
<path d="M691.75 397V392Q691.75 390 693.75 390H725Q727 390 727 392V397" fill="none" stroke="#000" stroke-width="1.9" stroke-linecap="round"/>
<text x="709.5" y="390.3" font-size="18" fill="#000" text-anchor="middle" font-weight="bold" stroke="#000" stroke-width="0.5" letter-spacing="0">*</text>
<line x1="691.9" y1="406.3" x2="691.9" y2="409.7" stroke="#4d80bc" stroke-width="1.9"/>
<rect x="679.08" y="410.18" width="25.64" height="7.74" fill="#bfbfbf" stroke="#4d80bc" stroke-width="1.9" stroke-linejoin="round"/>
<line x1="678.6" y1="415.3" x2="705.1999999999999" y2="415.3" stroke="#4d80bc" stroke-width="3.5"/>
<circle cx="692.5" cy="406" r="2.3" fill="#0d0d0d" fill-opacity="0.7"/>
<circle cx="693" cy="416.5" r="2.3" fill="#0d0d0d" fill-opacity="0.7"/>
<circle cx="692.5" cy="420.5" r="2.3" fill="#0d0d0d" fill-opacity="0.7"/>
<rect x="713.48" y="427.58" width="27.84" height="4.34" fill="#bfbfbf" stroke="#c00000" stroke-width="1.9" stroke-linejoin="round"/>
<line x1="713.0" y1="429.7" x2="741.8" y2="429.7" stroke="#c00000" stroke-width="3.5"/>
<circle cx="726.8" cy="428.3" r="2.3" fill="#0d0d0d" fill-opacity="0.7"/>
<circle cx="727.8" cy="429.6" r="2.3" fill="#0d0d0d" fill-opacity="0.7"/>
<circle cx="727" cy="435" r="2.3" fill="#0d0d0d" fill-opacity="0.7"/>
<line x1="762.4" y1="443.6" x2="762.4" y2="447.5" stroke="#c00000" stroke-width="1.9"/>
<rect x="748.48" y="435.78" width="27.84" height="7.34" fill="#bfbfbf" stroke="#c00000" stroke-width="1.9" stroke-linejoin="round"/>
<line x1="748.0" y1="437.9" x2="776.8" y2="437.9" stroke="#c00000" stroke-width="4.4"/>
<circle cx="762.5" cy="434.6" r="2.3" fill="#0d0d0d" fill-opacity="0.7"/>
<circle cx="762" cy="437.6" r="2.3" fill="#0d0d0d" fill-opacity="0.7"/>
<circle cx="762.4" cy="448" r="2.3" fill="#0d0d0d" fill-opacity="0.7"/>
<rect x="784.48" y="436.68" width="26.84" height="5.14" fill="#bfbfbf" stroke="#c00000" stroke-width="1.9" stroke-linejoin="round"/>
<line x1="784.0" y1="439.2" x2="811.8" y2="439.2" stroke="#c00000" stroke-width="3.8"/>
<circle cx="798.5" cy="434.6" r="2.3" fill="#0d0d0d" fill-opacity="0.7"/>
<circle cx="798" cy="440.3" r="2.3" fill="#0d0d0d" fill-opacity="0.7"/>
<circle cx="799" cy="441.2" r="2.3" fill="#0d0d0d" fill-opacity="0.7"/>
</svg>
</body></html>
